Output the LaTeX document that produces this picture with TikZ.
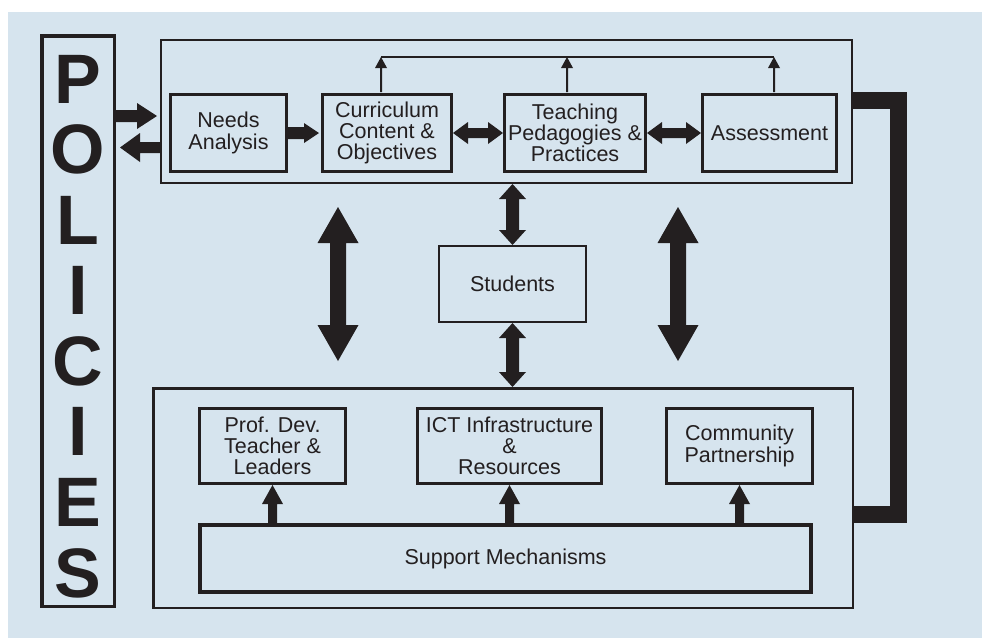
\documentclass[tikz,border=0pt]{standalone}
\usepackage{fontspec}
\setmainfont{Liberation Sans}
\usetikzlibrary{calc}
\definecolor{bg}{HTML}{D6E4EE}
\definecolor{ink}{HTML}{231F20}
\newcommand{\boxfont}{\fontsize{21.5}{21.3}\selectfont}
% block arrow: from, to, half shaft, half head, head length
\newcommand{\blockarrow}[5]{%
  \coordinate (baS) at (#1);
  \coordinate (baT) at (#2);
  \coordinate (baC) at ($(baT)!#5!(baS)$);
  \fill[ink] ($(baS)!#3!90:(baT)$) -- ($(baC)!#3!90:(baT)$) -- ($(baC)!#4!90:(baT)$) -- (baT)
    -- ($(baC)!#4!-90:(baT)$) -- ($(baC)!#3!-90:(baT)$) -- ($(baS)!#3!-90:(baT)$) -- cycle;}
% double block arrow
\newcommand{\dblarrow}[5]{%
  \coordinate (daA) at (#1);
  \coordinate (daB) at (#2);
  \coordinate (daC) at ($(daA)!#5!(daB)$);
  \coordinate (daD) at ($(daB)!#5!(daA)$);
  \fill[ink] (daA) -- ($(daC)!#4!90:(daB)$) -- ($(daC)!#3!90:(daB)$) -- ($(daD)!#3!90:(daB)$)
    -- ($(daD)!#4!90:(daB)$) -- (daB) -- ($(daD)!#4!-90:(daB)$) -- ($(daD)!#3!-90:(daB)$)
    -- ($(daC)!#3!-90:(daB)$) -- ($(daC)!#4!-90:(daB)$) -- cycle;}
\begin{document}
\begin{tikzpicture}[x=1pt,y=-1pt,
  frame/.style={draw=ink, inner sep=0pt},
  box/.style={draw=ink, text=ink, line width=3pt, inner sep=0pt, align=center, font=\boxfont},
  letter/.style={text=ink, inner sep=0pt, font=\fontsize{70}{70}\selectfont\bfseries}]
\useasboundingbox (0,0) rectangle (982,638);
\fill[white] (0,0) rectangle (982,638);
\fill[bg] (8,12) rectangle (982,638);

% policies column
\node[frame, line width=3.5pt, minimum width=72.5pt, minimum height=570.5pt] (policies) at (78,321) {};
\foreach \ch [count=\i from 0] in {P,O,L,I,C,I,E,S}
  \node[letter, anchor=base] (pol\i) at (78,{103+70.57*\i}) {\ch};

% top group
\node[frame, line width=2pt, minimum width=691pt, minimum height=143pt] (top) at (506.5,111.5) {};
\node[box, minimum width=116pt, minimum height=77pt] (needs) at (228.5,133) {Needs\\Analysis};
\node[box, minimum width=129pt, minimum height=77pt] (curr) at (387,133) {Curriculum\\Content \&\\Objectives};
\node[box, minimum width=141pt, minimum height=77pt] (teach) at (575,133) {Teaching\\Pedagogies \&\\Practices};
\node[box, minimum width=134pt, minimum height=77pt] (assess) at (769.5,133) {Assessment};

% students
\node[box, line width=2pt, minimum width=147pt, minimum height=76pt] (students) at (512.5,284) {Students};

% bottom group
\node[frame, line width=2.5pt, minimum width=699.5pt, minimum height=219.5pt] (bottom) at (503,498) {};
\node[box, minimum width=146pt, minimum height=75pt] (prof) at (272.5,446) {Prof. Dev.\\Teacher \&\\Leaders};
\node[box, minimum width=184pt, minimum height=75pt] (ict) at (509.5,446) {ICT Infrastructure\\\&\\Resources};
\node[box, minimum width=146pt, minimum height=75pt] (comm) at (739.5,446) {Community\\Partnership};
\node[box, line width=4pt, minimum width=611pt, minimum height=67pt] (support) at (505.5,558.5) {Support Mechanisms};

% policies <-> top group
\coordinate (pr) at (0,116);
\coordinate (pl) at (0,147.5);
\coordinate (prT) at ($(top.west |- pr)+(-3,0)$);
\coordinate (plT) at ($(policies.east |- pl)+(4,0)$);
\blockarrow{policies.east |- pr}{prT}{6pt}{13pt}{20pt}
\blockarrow{top.west |- pl}{plT}{5.5pt}{14.5pt}{20pt}

% needs -> curriculum
\coordinate (ncT) at ($(curr.west)+(-2,0)$);
\blockarrow{needs.east}{ncT}{6pt}{10pt}{15pt}
% curriculum <-> teaching <-> assessment
\dblarrow{curr.east}{teach.west}{5pt}{11pt}{15pt}
\dblarrow{teach.east}{assess.west}{5pt}{11pt}{15pt}

% feedback line
\coordinate (fbY) at (0,57);
\coordinate (fbA) at ($(curr.north)+(-6,-1)$);
\coordinate (fbB) at ($(teach.north)+(-8,-1)$);
\coordinate (fbC) at ($(assess.north)+(4.5,-1)$);
\draw[ink, line width=2pt] (fbA |- fbY) -- (fbC |- fbY);
\blockarrow{fbA}{fbA |- fbY}{1pt}{6pt}{11pt}
\blockarrow{fbB}{fbB |- fbY}{1pt}{6pt}{11pt}
\blockarrow{fbC}{fbC |- fbY}{1pt}{6pt}{11pt}

% students links
\dblarrow{students.north |- top.south}{students.north}{6.5pt}{13.5pt}{15pt}
\dblarrow{students.south}{students.south |- bottom.north}{6.5pt}{13.5pt}{15pt}

% big side arrows between groups
\coordinate (bigLa) at (338,207);
\coordinate (bigLb) at (338,361);
\coordinate (bigRa) at (678,207);
\coordinate (bigRb) at (678,361);
\dblarrow{bigLa}{bigLb}{8pt}{20.5pt}{36pt}
\dblarrow{bigRa}{bigRb}{8pt}{20.5pt}{36pt}

% support arrows
\blockarrow{prof.south |- support.north}{prof.south}{4.5pt}{10.5pt}{19pt}
\blockarrow{ict.south |- support.north}{ict.south}{4.5pt}{10.5pt}{19pt}
\blockarrow{comm.south |- support.north}{comm.south}{4.5pt}{10.5pt}{19pt}

% right bracket
\coordinate (brT) at (0,100.5);
\coordinate (brB) at (0,514.5);
\coordinate (brR) at (898.5,0);
\draw[ink, line width=17pt, line join=miter] (top.east |- brT) -- (brR |- brT) -- (brR |- brB) -- (bottom.east |- brB);
\end{tikzpicture}
\end{document}
